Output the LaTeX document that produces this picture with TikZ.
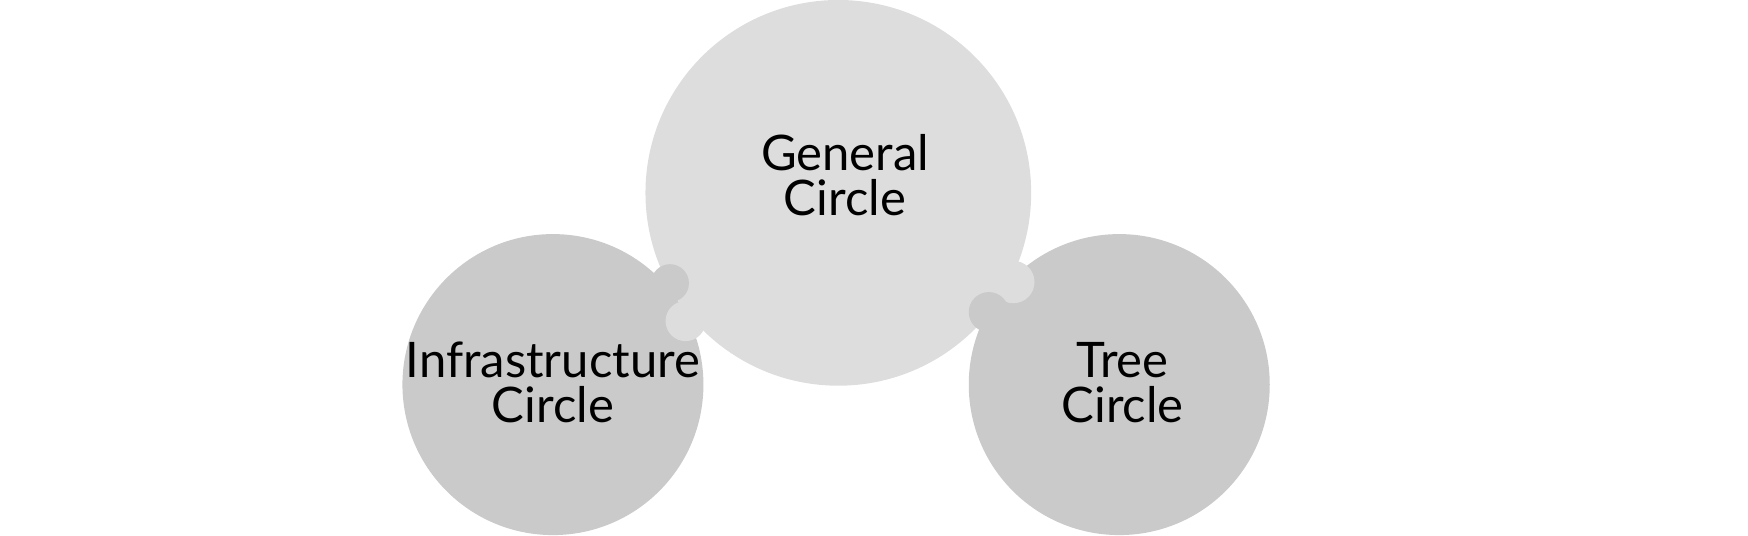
\documentclass[tikz,border=0pt]{standalone}
\usepackage{fontspec}
\setmainfont{Lato}
\definecolor{lightgray}{HTML}{DDDDDD}
\definecolor{darkgray}{HTML}{CACACA}
\begin{document}
\begin{tikzpicture}[x=0.01cm,y=-0.01cm,
  label/.style={align=center,font=\fontsize{12.5}{11.5}\selectfont}]
  % Bounding box
  \useasboundingbox (0,0) rectangle (1568,480);
  % Big circles
  \fill[lightgray] (752,173) circle (173);
  \fill[darkgray] (496,345) circle (135);
  \fill[darkgray] (1004,345) circle (135);
  % Puzzle knobs
  \fill[darkgray] (601,254) circle (17);
  \fill[lightgray] (615,288) circle (18);
  \fill[lightgray] (909,253) circle (19);
  \fill[darkgray] (887,280) circle (18);
  % Labels
  \node[label] (general) at (758,157) {General\\Circle};
  \node[label] (infra) at (496,343) {Infrastructure\\Circle};
  \node[label] (tree) at (1007,343) {Tree\\Circle};
\end{tikzpicture}
\end{document}
